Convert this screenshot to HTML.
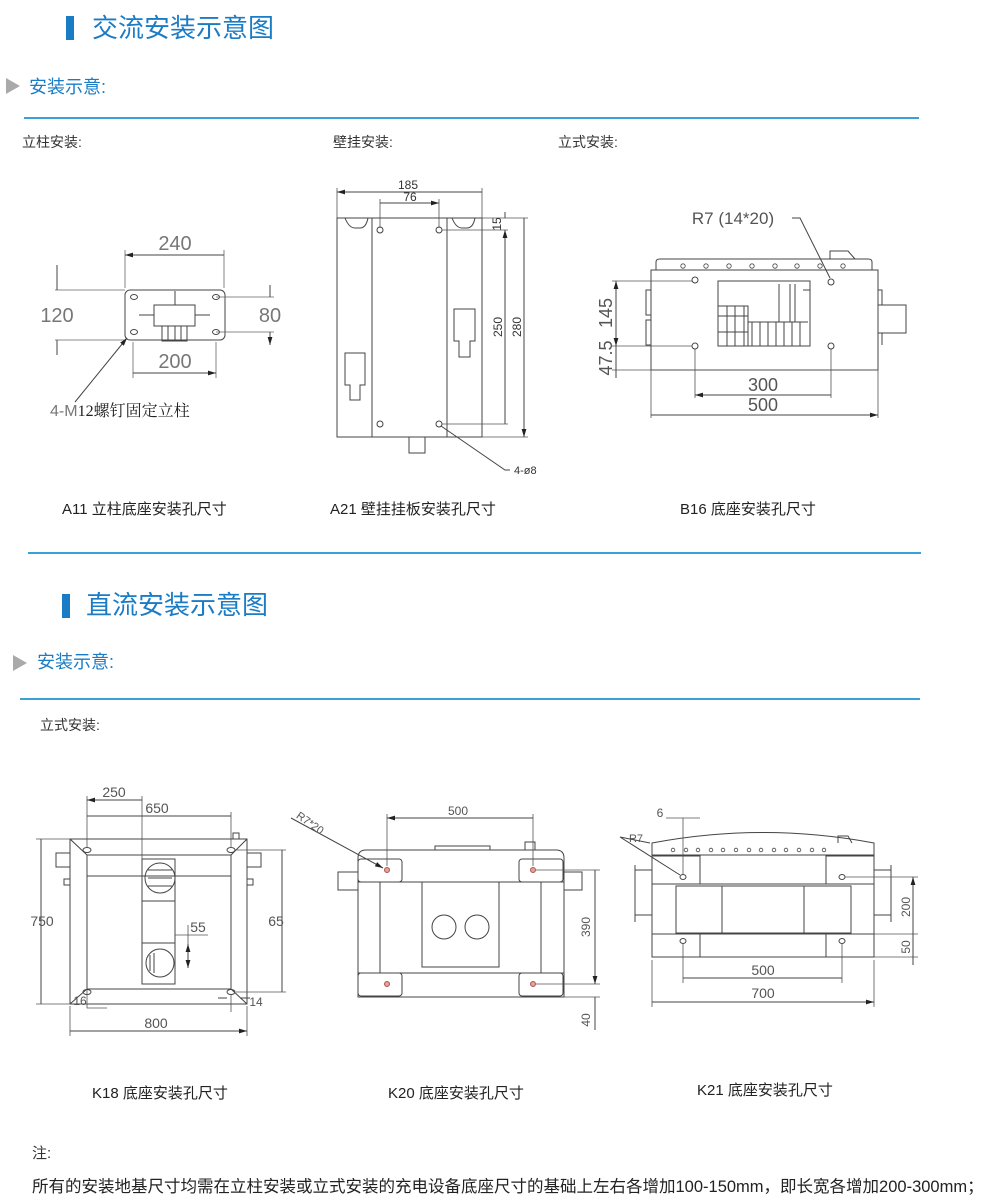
<!DOCTYPE html>
<html><head><meta charset="utf-8"><style>
body{margin:0;width:1000px;height:1200px;background:#fff;position:relative;overflow:hidden;font-family:"Liberation Sans","Noto Sans CJK SC",sans-serif;}
.a{position:absolute;white-space:nowrap;line-height:1;}
.t1{font-size:26px;color:#1b7cc6;}
.t2{font-size:18px;color:#1b7cc6;}
.lb{font-size:14px;color:#333;}
.cap{font-size:15px;color:#222;}
.bar{position:absolute;width:8px;height:24px;background:#1b7cc6;}
.hl{position:absolute;height:2px;background:#3aa0d8;}
svg{position:absolute;left:0;top:0;}
</style></head><body>
<div class="bar" style="left:66px;top:16px"></div>
<div class="a t1" style="left:92px;top:15px">交流安装示意图</div>
<svg width="30" height="100" style="left:4px;top:76px"><polygon points="2,2 16,10 2,18" fill="#aaa"/></svg>
<div class="a t2" style="left:29px;top:78px">安装示意:</div>
<div class="hl" style="left:24px;top:117px;width:895px"></div>
<div class="a lb" style="left:22px;top:135px">立柱安装:</div>
<div class="a lb" style="left:333px;top:135px">壁挂安装:</div>
<div class="a lb" style="left:558px;top:135px">立式安装:</div>
<div class="a cap" style="left:62px;top:502px">A11 立柱底座安装孔尺寸</div>
<div class="a cap" style="left:330px;top:502px">A21 壁挂挂板安装孔尺寸</div>
<div class="a cap" style="left:680px;top:502px">B16 底座安装孔尺寸</div>
<div class="hl" style="left:28px;top:552px;width:893px"></div>
<div class="bar" style="left:62px;top:594px"></div>
<div class="a t1" style="left:86px;top:592px">直流安装示意图</div>
<svg width="30" height="30" style="left:11px;top:653px"><polygon points="2,2 16,10 2,18" fill="#aaa"/></svg>
<div class="a t2" style="left:37px;top:653px">安装示意:</div>
<div class="hl" style="left:20px;top:698px;width:900px"></div>
<div class="a lb" style="left:40px;top:718px">立式安装:</div>
<div class="a cap" style="left:92px;top:1086px">K18 底座安装孔尺寸</div>
<div class="a cap" style="left:388px;top:1086px">K20 底座安装孔尺寸</div>
<div class="a cap" style="left:697px;top:1083px">K21 底座安装孔尺寸</div>
<div class="a lb" style="left:32px;top:1146px;font-size:15px">注:</div>
<div class="a lb" style="left:32px;top:1179px;font-size:16.5px;color:#222">所有的安装地基尺寸均需在立柱安装或立式安装的充电设备底座尺寸的基础上左右各增加100-150mm，即长宽各增加200-300mm；</div>

<svg width="1000" height="1200" viewBox="0 0 1000 1200" font-family="Liberation Sans, sans-serif">
<defs>
<marker id="ar" viewBox="0 0 10 6" refX="10" refY="3" markerWidth="8" markerHeight="5" orient="auto-start-reverse"><path d="M0,0L10,3L0,6z" fill="#222"/></marker>
</defs>
<g fill="none" stroke="#444" stroke-width="1">
<!-- A11 -->
<rect x="125" y="290" width="100" height="50" rx="5"/>
<ellipse cx="134" cy="297" rx="3.5" ry="2.5"/><ellipse cx="216" cy="297" rx="3.5" ry="2.5"/>
<ellipse cx="134" cy="332" rx="3.5" ry="2.5"/><ellipse cx="216" cy="332" rx="3.5" ry="2.5"/>
<rect x="154" y="305" width="41" height="21"/>
<path d="M162,326v15h25v-15M168,326v15M175,326v15M181,326v15M175,291v14M139,315h15M195,315h15"/>
<g stroke="#666" stroke-width="0.8">
<path d="M125,288V250M224,288V250M55,290H125M55,340H125M216,297H274M216,332H274M133,342V378M216,342V378"/>
</g>
<path d="M57,265V290M57,340V355M270,285V297M270,332V345" marker-end="url(#ar)"/>
<path d="M125,255H224M133,373H216" marker-start="url(#ar)" marker-end="url(#ar)"/>
<path d="M75,402L127,338" marker-end="url(#ar)"/>
<!-- A21 -->
<rect x="337" y="218" width="145" height="219"/>
<path d="M372,218V437M447,218V437"/>
<path d="M345,218q4,10 10,10h5q6,0 8,-10M452,218q4,10 10,10h5q6,0 8,-10"/>
<circle cx="380" cy="230" r="3"/><circle cx="439" cy="230" r="3"/><circle cx="380" cy="424" r="3"/><circle cx="439" cy="424" r="3"/>
<path d="M345,353h20v32h-5v15h-10v-15h-5z"/>
<path d="M454,309h21v32h-5v16h-11v-16h-5z"/>
<rect x="409" y="437" width="16" height="16"/>
<g stroke="#555" stroke-width="0.8">
<path d="M337,218V188M482,218V188M380,228V199M439,228V199M442,230H508M442,424H508M482,218H528M482,437H528"/>
</g>
<path d="M337,192H482M380,203H439" marker-start="url(#ar)" marker-end="url(#ar)"/>
<path d="M505,230V424M524,218V437" marker-start="url(#ar)" marker-end="url(#ar)"/>
<path d="M505,212V218" />
<path d="M510,470H505L441,426"/>
<!-- B16 -->
<rect x="651" y="270" width="227" height="100"/>
<path d="M656,270V262q0,-3 4,-3H868q4,0 4,3V270"/>
<path d="M830,259V251h18l7,8"/>
<g stroke-width="0.8"><circle cx="683" cy="266" r="2.2"/><circle cx="706" cy="266" r="2.2"/><circle cx="729" cy="266" r="2.2"/><circle cx="752" cy="266" r="2.2"/><circle cx="775" cy="266" r="2.2"/><circle cx="797" cy="266" r="2.2"/><circle cx="820" cy="266" r="2.2"/><circle cx="843" cy="266" r="2.2"/></g>
<circle cx="695" cy="280" r="3"/><circle cx="831" cy="282" r="3"/><circle cx="695" cy="346" r="3"/><circle cx="831" cy="346" r="3"/>
<rect x="718" y="281" width="92" height="65"/>
<path d="M718,306h30v40M727,306v40M735,306v40M744,306v40M718,316h30M718,332h30M748,322h60M752,322v24M760,322v24M768,322v24M776,322v24M784,322v24M792,322v24M800,322v24M779,284v38M790,284v38M795,284v38M803,290h7v30"/>
<rect x="878" y="305" width="28" height="28"/>
<path d="M651,290h-5v25h5M651,320h-5v25h5M878,290h4v15M878,333h4v12"/>
<g stroke="#555" stroke-width="0.8"><path d="M612,281H692M612,346H692M612,370H878M695,349V398M831,349V398M651,370V418M878,370V418"/></g>
<path d="M616,281V346" marker-start="url(#ar)" marker-end="url(#ar)"/>
<path d="M616,346V370M616,370V378"/>
<path d="M695,395H831M651,415H878" marker-start="url(#ar)" marker-end="url(#ar)"/>
<path d="M792,218H800L830,278"/>
<!-- K18 -->
<rect x="70" y="839" width="177" height="165"/>
<rect x="87" y="855" width="144" height="134"/>
<path d="M70,839L87,855M247,839L231,855M70,1004L87,989M247,1004L231,989M87,876H231"/>
<ellipse cx="87" cy="850" rx="4" ry="2.5"/><ellipse cx="231" cy="850" rx="4" ry="2.5"/><ellipse cx="87" cy="992" rx="4" ry="2.5"/><ellipse cx="231" cy="992" rx="4" ry="2.5"/>
<rect x="56" y="853" width="14" height="14"/><rect x="247" y="853" width="14" height="14"/>
<rect x="64" y="879" width="6" height="6"/><rect x="247" y="879" width="6" height="6"/>
<rect x="233" y="833" width="6" height="6"/>
<rect x="142" y="859" width="33" height="125"/>
<path d="M142,901H175M142,943H175"/>
<circle cx="160" cy="878" r="15"/><circle cx="160" cy="963" r="14"/>
<path d="M148,870h24M148,878h24M148,886h24M150,955v16M154,953v20"/>
<g stroke="#555" stroke-width="0.8"><path d="M87,848V796M142,859V796M231,848V812M36,839H70M36,1004H70M236,850H286M236,992H286M70,1006V1036M247,1006V1036M175,935H208M188,925V944M87,990V1008h20M231,995V1012"/></g>
<path d="M87,800H142M87,816H231M41,839V1004M282,850V992M70,1031H247" marker-start="url(#ar)" marker-end="url(#ar)"/>
<path d="M188,944V968" marker-start="url(#ar)" marker-end="url(#ar)"/>
<path d="M218,998H227M240,998H250"/>
<!-- K20 -->
<path d="M358,997V858q0,-8 8,-8H556q8,0 8,8V997z"/>
<path d="M358,882H564M358,973H564M380,882V973M541,882V973"/>
<rect x="358" y="859" width="44" height="23" rx="3"/><rect x="519" y="859" width="44" height="23" rx="3"/>
<rect x="358" y="973" width="44" height="23" rx="3"/><rect x="519" y="973" width="44" height="23" rx="3"/>
<rect x="338" y="872" width="20" height="18"/><rect x="564" y="872" width="18" height="18"/>
<rect x="422" y="882" width="77" height="85"/>
<circle cx="444" cy="927" r="12"/><circle cx="477" cy="927" r="12"/>
<path d="M435,850V846H490V850M525,850V842h10v8"/>
<g fill="#e8a090" stroke="#a55"><circle cx="387" cy="870" r="2.5"/><circle cx="533" cy="870" r="2.5"/><circle cx="387" cy="984" r="2.5"/><circle cx="533" cy="984" r="2.5"/></g>
<g stroke="#555" stroke-width="0.8"><path d="M387,866V814M533,866V814M536,870H600M536,984H600M564,997H600"/></g>
<path d="M387,818H533M595,870V984" marker-start="url(#ar)" marker-end="url(#ar)"/>
<path d="M595,997V1030"/>
<path d="M291,818L383,868" marker-end="url(#ar)"/>
<!-- K21 -->
<path d="M652,957V843Q763,822 874,843V957z"/>
<path d="M652,855H874"/>
<g stroke-width="0.8"><circle cx="673" cy="850" r="1.8"/><circle cx="686" cy="850" r="1.8"/><circle cx="698" cy="850" r="1.8"/><circle cx="711" cy="850" r="1.8"/><circle cx="723" cy="850" r="1.8"/><circle cx="736" cy="850" r="1.8"/><circle cx="749" cy="850" r="1.8"/><circle cx="761" cy="850" r="1.8"/><circle cx="774" cy="850" r="1.8"/><circle cx="786" cy="850" r="1.8"/><circle cx="799" cy="850" r="1.8"/><circle cx="812" cy="850" r="1.8"/><circle cx="824" cy="850" r="1.8"/></g>
<rect x="652" y="856" width="48" height="28"/><rect x="826" y="856" width="48" height="28"/>
<rect x="652" y="934" width="48" height="23"/><rect x="826" y="934" width="48" height="23"/>
<path d="M652,884H874M652,934H874"/>
<rect x="676" y="886" width="46" height="47"/><rect x="722" y="886" width="82" height="47"/><rect x="804" y="886" width="47" height="47"/>
<ellipse cx="683" cy="877" rx="3" ry="2.5"/><ellipse cx="842" cy="877" rx="3" ry="2.5"/><ellipse cx="683" cy="941" rx="3" ry="2.5"/><ellipse cx="842" cy="941" rx="3" ry="2.5"/>
<path d="M635,865V922M635,870H652M635,915H652M891,865V922M874,870H891M874,915H891M838,843V836h10l4,7"/>
<g stroke="#555" stroke-width="0.8"><path d="M683,874V818M683,944V983M842,944V983M652,960V1007M874,960V1007M845,877H918M874,934H918M874,957H918M666,818H700"/></g>
<path d="M913,877V934M683,978H842M652,1002H874" marker-start="url(#ar)" marker-end="url(#ar)"/>
<path d="M913,934V965"/>
<path d="M620,837L680,875M620,837L650,843"/>
</g>
<g fill="#777" font-size="20" text-anchor="middle">
<text x="175" y="250">240</text><text x="57" y="322">120</text><text x="270" y="322">80</text><text x="175" y="368">200</text>
<text x="50" y="416" text-anchor="start" font-size="16">4-M<tspan fill="#222" font-family="Liberation Serif, Noto Serif CJK SC, serif">12螺钉固定立柱</tspan></text>
</g>
<g fill="#333" font-size="12" text-anchor="middle">
<text x="408" y="189">185</text><text x="410" y="201">76</text>
<text transform="translate(501,224) rotate(-90)">15</text>
<text transform="translate(502,327) rotate(-90)">250</text>
<text transform="translate(521,327) rotate(-90)">280</text>
<text x="514" y="474" text-anchor="start" font-size="11">4-ø8</text>
</g>
<g fill="#555" font-size="18" text-anchor="middle">
<text x="733" y="224" font-size="17">R7 (14*20)</text>
<text transform="translate(612,313) rotate(-90)">145</text>
<text transform="translate(612,358) rotate(-90)">47.5</text>
<text x="763" y="391">300</text><text x="763" y="411">500</text>
</g>
<g fill="#555" font-size="14" text-anchor="middle">
<text x="114" y="797">250</text><text x="157" y="813">650</text>
<text x="42" y="926">750</text><text x="276" y="926">65</text>
<text x="198" y="932">55</text><text x="156" y="1028">800</text>
<text x="80" y="1005" font-size="12">16</text><text x="256" y="1006" font-size="12">14</text>
<text x="458" y="815" font-size="12">500</text>
<text transform="translate(308,826) rotate(35)" font-size="11">R7*20</text>
<text transform="translate(590,927) rotate(-90)" font-size="12">390</text>
<text transform="translate(590,1020) rotate(-90)" font-size="12">40</text>
<text x="660" y="817" font-size="12">6</text>
<text x="636" y="842" font-size="11">R7</text>
<text transform="translate(910,907) rotate(-90)" font-size="12">200</text>
<text transform="translate(910,947) rotate(-90)" font-size="12">50</text>
<text x="763" y="975">500</text><text x="763" y="998">700</text>
</g>
</svg>
</body></html>
